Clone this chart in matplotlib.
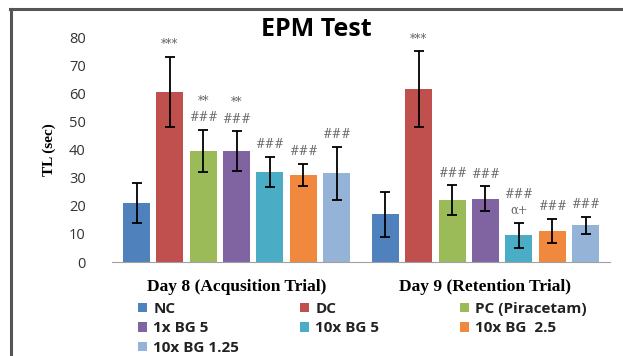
import matplotlib.pyplot as plt
import numpy as np

groups = ['Day 8 (Acqusition Trial)', 'Day 9 (Retention Trial)']
treatments = ['NC', 'DC', 'PC (Piracetam)', '1x BG 5', '10x BG 5', '10x BG  2.5', '10x BG 1.25']
colors = ['#4F81BD', '#C0504D', '#9BBB59', '#8064A2', '#4BACC6', '#F0883E', '#95B3D7']

day8_mean = [21, 60.5, 39.5, 39.5, 32, 31, 31.5]
day8_err = [7, 12.5, 7.5, 7, 5.5, 4, 9.5]
day9_mean = [17, 61.5, 22, 22.5, 9.5, 11, 13]
day9_err = [8, 13.5, 5.3, 4.5, 4.5, 4.3, 3]

day8_marks = ['', '***', '**\n###', '**\n###', '###', '###', '###']
day9_marks = ['', '***', '###', '###', '###\nα+', '###', '###']

means = np.array([day8_mean, day9_mean])
errs = np.array([day8_err, day9_err])
marks = [day8_marks, day9_marks]

fig = plt.figure(figsize=(6.23, 3.56), dpi=100)
ax = fig.add_axes([0.18, 0.264, 0.799, 0.632])

n = len(treatments)
step = 0.134
width = 0.108
x = np.arange(len(groups))

handles = []
for i, (name, col) in enumerate(zip(treatments, colors)):
    pos = x + (i - (n - 1) / 2) * step
    b = ax.bar(pos, means[:, i], width, color=col, label=name,
               yerr=errs[:, i], capsize=3.5,
               error_kw=dict(ecolor='black', elinewidth=1.3, capthick=1.3))
    handles.append(b)
    for g in range(len(groups)):
        ax.annotate(marks[g][i], (pos[g], means[g, i] + errs[g, i]),
                    xytext=(0, 4), textcoords='offset points',
                    ha='center', va='bottom', fontsize=8.3,
                    color='#666666', family='DejaVu Serif', linespacing=1.35)

ax.set_xlim(-0.5, 1.5)
ax.set_ylim(0, 80)
ax.set_yticks(range(0, 81, 10))
ax.set_xticks(x)
ax.set_xticklabels(groups, family='Liberation Serif', fontweight='bold', fontsize=12.5)
ax.tick_params(axis='x', length=0, pad=12)
ax.tick_params(axis='y', length=0, pad=19, labelsize=10.5, labelcolor='#333333')
for t in ax.get_yticklabels():
    t.set_family('Open Sans')

for s in ['top', 'right', 'left']:
    ax.spines[s].set_visible(False)
ax.spines['bottom'].set_color('#A0A0A0')

ax.set_ylabel('TL (sec)', family='Liberation Serif', fontweight='bold', fontsize=11)
ax.yaxis.set_label_coords(-0.113, 0.5)

fig.text(0.508, 0.918, 'EPM Test', ha='center', va='center',
         fontsize=18, fontweight='bold', family='Open Sans')

# legend laid out row by row, one legend per column
col_x = [138 / 623, 300 / 623, 460 / 623]
for c in range(3):
    idx = list(range(c, n, 3))
    leg = fig.legend([handles[k] for k in idx], [treatments[k] for k in idx],
                     loc='upper left', bbox_to_anchor=(col_x[c], 1 - 302 / 356),
                     frameon=False, borderpad=0, borderaxespad=0,
                     handlelength=0.6, handleheight=0.6, handletextpad=0.4,
                     labelspacing=0.36,
                     prop=dict(family='Open Sans', weight='bold', size=11))
    for t in leg.get_texts():
        t.set_color('#222222')

# chart border (top and left edges visible)
fig.add_artist(plt.Line2D([0.016, 1.0], [0.975, 0.975], color='#555555', lw=2.2))
fig.add_artist(plt.Line2D([0.017, 0.017], [0.0, 0.975], color='#555555', lw=2.2))

plt.savefig('out.png', dpi=100)
